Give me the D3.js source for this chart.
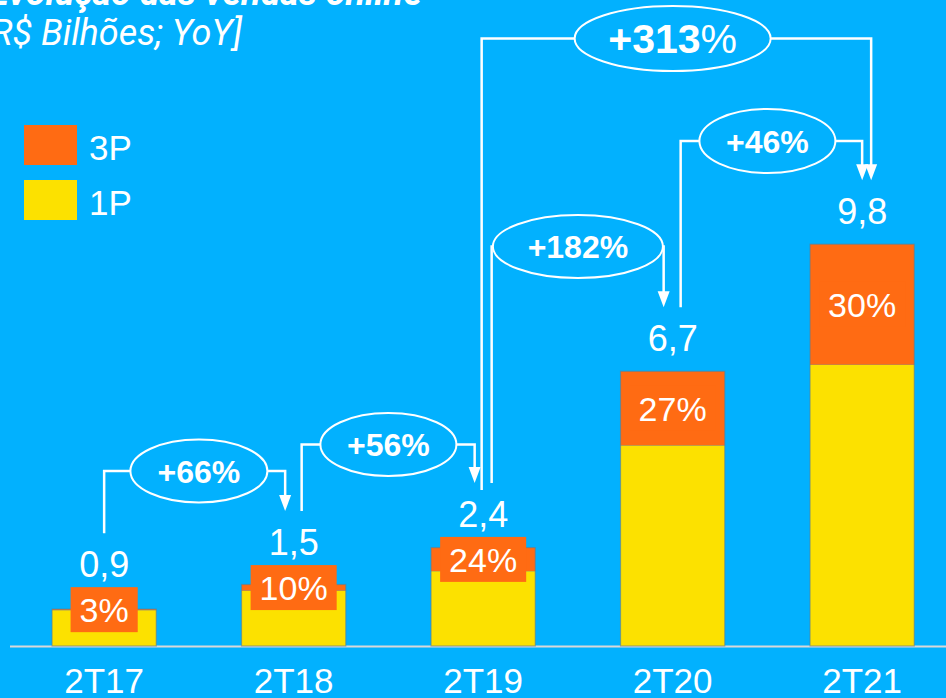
<!DOCTYPE html>
<html>
<head>
<meta charset="utf-8">
<script src="https://cdn.jsdelivr.net/npm/d3@7"></script>
<style>
  body { margin: 0; background: #02B1FE; overflow: hidden; }
  svg { display: block; }
</style>
</head>
<body>
<div id="PlotArea"></div>
<script>
// chart data
var categories = ["2T17", "2T18", "2T19", "2T20", "2T21"];
var totals = [0.9, 1.5, 2.4, 6.7, 9.8];          // R$ bilhões
var share3P = [3, 10, 24, 27, 30];               // % of total that is 3P
var totalLabels = ["0,9", "1,5", "2,4", "6,7", "9,8"];
var seriesNames = ["3P", "1P"];

// YoY growth annotations
var growthFrom = [0, 1, 2, 3, 2];
var growthTo = [1, 2, 3, 4, 4];
var growthLabels = ["+66%", "+56%", "+182%", "+46%", "+313%"];

var W = 946, H = 698;
var baseY = 646;
var orange = "#FF6B13", yellow = "#FCE100", white = "#ffffff";
var numFont = "'Liberation Sans', Arial, sans-serif";

var svg = d3.select("#PlotArea").append("svg")
  .attr("width", W).attr("height", H);

svg.append("rect").attr("width", W).attr("height", H).attr("fill", "#02B1FE");

// scales
var x = d3.scaleBand().domain(categories).range([9.4, 956.9])
  .paddingInner(0.45).paddingOuter(0.225);
var y = d3.scaleLinear().domain([0, 10]).range([baseY, 236]);
var color = d3.scaleOrdinal().domain(seriesNames).range([orange, yellow]);

// build stacked table (1P at bottom, 3P on top)
var rows = categories.map(function(c, i) {
  var p3 = totals[i] * share3P[i] / 100;
  return { cat: c, "1P": totals[i] - p3, "3P": p3 };
});
var stack = d3.stack().keys(["1P", "3P"])(rows);

// baseline
svg.append("line")
  .attr("x1", 10).attr("x2", W)
  .attr("y1", baseY + 0.5).attr("y2", baseY + 0.5)
  .attr("stroke", "#d9d9d9").attr("stroke-width", 2);

// bars
stack.forEach(function(layer) {
  svg.append("g").selectAll("rect")
    .data(layer)
    .enter().append("rect")
    .attr("x", function(d) { return x(d.data.cat); })
    .attr("width", x.bandwidth())
    .attr("y", function(d) { return y(d[1]); })
    .attr("height", function(d) { return y(d[0]) - y(d[1]); })
    .attr("fill", color(layer.key));
});
// thin outline around each whole bar
svg.append("g").selectAll("rect")
  .data(categories)
  .enter().append("rect")
  .attr("x", function(d) { return x(d); })
  .attr("width", x.bandwidth())
  .attr("y", function(d, i) { return y(totals[i]); })
  .attr("height", function(d, i) { return baseY - y(totals[i]); })
  .attr("fill", "none")
  .attr("stroke", "#5f7f93").attr("stroke-opacity", 0.6).attr("stroke-width", 1.2);

function cx(i) { return x(categories[i]) + x.bandwidth() / 2; }
function seg3Mid(i) { return (y(totals[i]) + y(rows[i]["1P"])) / 2; }
var boxH = 45;
function valueBase(i) {
  return Math.min(y(totals[i]) - 20, seg3Mid(i) - boxH / 2 - 10);
}

// 3P share labels on orange boxes
categories.forEach(function(c, i) {
  var g = svg.append("g");
  var t = g.append("text")
    .attr("x", cx(i)).attr("y", seg3Mid(i))
    .attr("dy", "0.36em")
    .attr("text-anchor", "middle")
    .style("font-family", numFont).style("font-size", "34px")
    .attr("fill", white)
    .text(share3P[i] + "%");
  var bw = t.node().getComputedTextLength() + 18;
  g.insert("rect", "text")
    .attr("x", cx(i) - bw / 2).attr("y", seg3Mid(i) - boxH / 2)
    .attr("width", bw).attr("height", boxH)
    .attr("fill", orange);
});

// totals above bars
svg.append("g").selectAll("text")
  .data(totalLabels)
  .enter().append("text")
  .attr("x", function(d, i) { return cx(i); })
  .attr("y", function(d, i) { return valueBase(i); })
  .attr("text-anchor", "middle")
  .style("font-family", numFont).style("font-size", "36px")
  .attr("fill", white)
  .text(function(d) { return d; });

// category labels
svg.append("g").selectAll("text")
  .data(categories)
  .enter().append("text")
  .attr("x", function(d, i) { return cx(i); })
  .attr("y", 693)
  .attr("text-anchor", "middle")
  .style("font-family", numFont).style("font-size", "35px")
  .attr("fill", white)
  .text(function(d) { return d; });

// growth annotations: ellipse + elbow connectors
var annLayout = [
  { cy: 471,   rx: 68.5, ry: 31.5, fs: 32, dl: 0,    dr: -8.5, lb: 0 },
  { cy: 444.5, rx: 68,   ry: 31.5, fs: 32, dl: 8,    dr: -8.5, lb: 0 },
  { cy: 246.5, rx: 85,   ry: 31.5, fs: 32, dl: 8.5,  dr: -9,   lb: 0 },
  { cy: 141,   rx: 68,   ry: 32,   fs: 32, dl: 8,    dr: 0,    lb: 0 },
  { cy: 38.5,  rx: 98,   ry: 32.5, fs: 41, dl: -1.5, dr: 9,    lb: 7 }
];

growthLabels.forEach(function(lbl, k) {
  var L = annLayout[k];
  var a = growthFrom[k], b = growthTo[k];
  var ex = (cx(a) + cx(b)) / 2;
  var lx = cx(a) + L.dl, rx = cx(b) + L.dr;
  var lBottom = valueBase(a) - 44 + L.lb;
  var tip = valueBase(b) - 44;
  var g = svg.append("g");

  g.append("path")
    .attr("d", "M" + lx + "," + lBottom + "V" + L.cy + "H" + (ex - L.rx))
    .attr("fill", "none").attr("stroke", white).attr("stroke-width", 2.5);
  g.append("path")
    .attr("d", "M" + (ex + L.rx) + "," + L.cy + "H" + rx + "V" + (tip - 14))
    .attr("fill", "none").attr("stroke", white).attr("stroke-width", 2.5);
  g.append("path")
    .attr("d", "M" + (rx - 6) + "," + (tip - 16) + "L" + (rx + 6) + "," + (tip - 16) + "L" + rx + "," + tip + "Z")
    .attr("fill", white);

  g.append("ellipse")
    .attr("cx", ex).attr("cy", L.cy)
    .attr("rx", L.rx).attr("ry", L.ry)
    .attr("fill", "none").attr("stroke", white).attr("stroke-width", 2);

  var t = g.append("text")
    .attr("x", ex).attr("y", L.cy).attr("dy", "0.36em")
    .attr("text-anchor", "middle")
    .style("font-family", numFont).style("font-size", L.fs + "px")
    .style("font-weight", "bold")
    .attr("fill", white);
  if (k === 4) {
    t.append("tspan").text(lbl.slice(0, -1));
    t.append("tspan").style("font-weight", "normal").text("%");
  } else {
    t.text(lbl);
  }
});

// legend
var legend = svg.selectAll(".legend")
  .data(seriesNames)
  .enter().append("g")
  .attr("class", "legend")
  .attr("transform", function(d, i) { return "translate(24," + (125 + i * 55) + ")"; });
legend.append("rect")
  .attr("width", 53).attr("height", 40)
  .attr("fill", function(d) { return color(d); });
legend.append("text")
  .attr("x", 65).attr("y", 35)
  .style("font-family", numFont).style("font-size", "35px")
  .attr("fill", white)
  .text(function(d) { return d; });

// title (partly cut off at the top in the original)
svg.append("text")
  .attr("x", 422).attr("y", 5)
  .attr("text-anchor", "end")
  .style("font-family", "Roboto, sans-serif").style("font-size", "36px")
  .style("font-weight", "bold").style("font-style", "italic")
  .attr("fill", white)
  .text("Evolução das vendas online");
svg.append("text")
  .attr("x", 242).attr("y", 45)
  .attr("text-anchor", "end")
  .style("font-family", "Roboto, sans-serif").style("font-size", "36px")
  .style("font-style", "italic")
  .attr("fill", white)
  .text("[R$ Bilhões; YoY]");
</script>
</body>
</html>
